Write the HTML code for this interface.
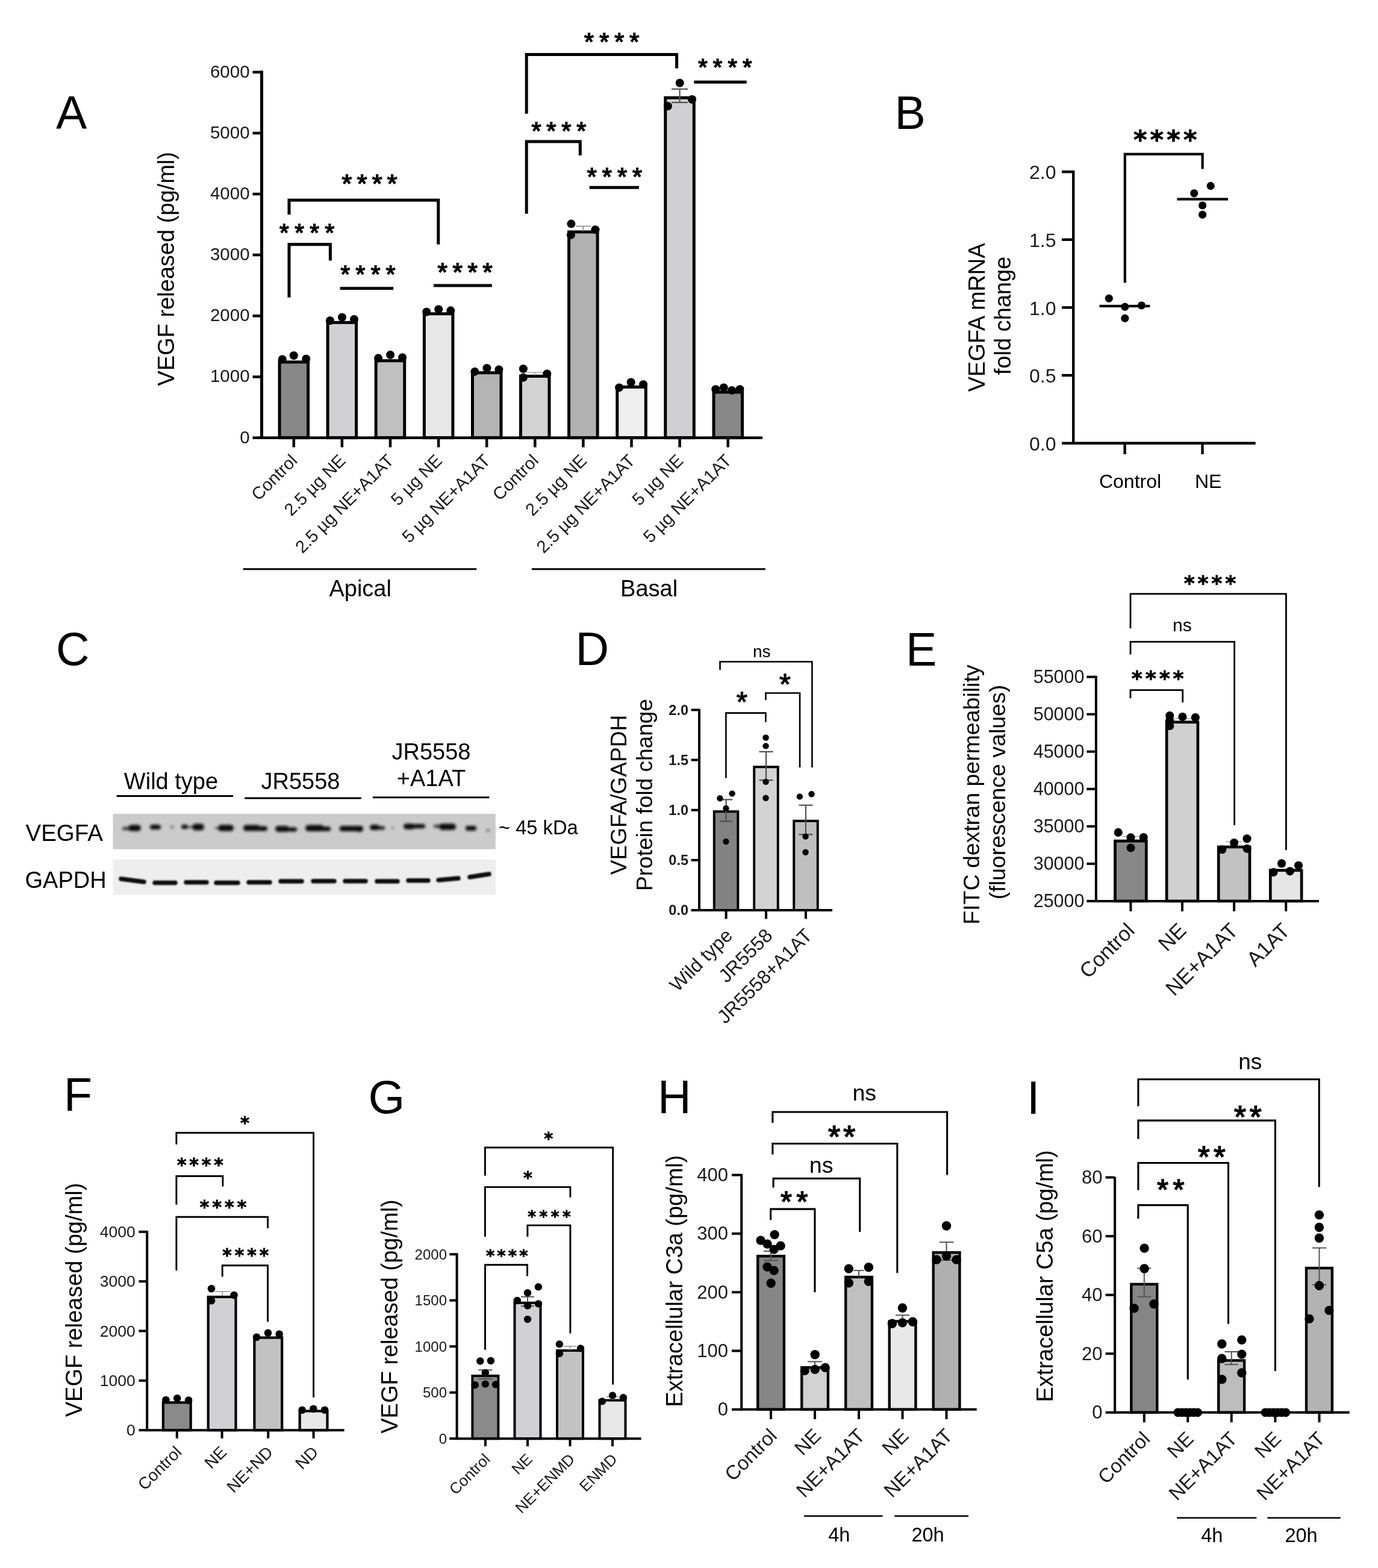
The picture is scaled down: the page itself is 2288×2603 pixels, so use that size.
<!DOCTYPE html>
<html><head><meta charset="utf-8"><title>Figure</title>
<style>html,body{margin:0;padding:0;background:#fff;overflow:hidden;}svg{display:block;font-family:"Liberation Sans",Arial,sans-serif;}</style></head><body>
<svg width="2288" height="2603" viewBox="0 0 2288 2603">
<rect width="100%" height="100%" fill="#fff"/>
<text x="93" y="214" font-size="77">A</text>
<rect x="464.1" y="601" width="47.5" height="125.7" fill="#878787" stroke="#000" stroke-width="5"/>
<rect x="544.1" y="535.4" width="47.5" height="191.3" fill="#d1d1d3" stroke="#000" stroke-width="5"/>
<rect x="624.2" y="598.8" width="47.5" height="127.9" fill="#c0c0c0" stroke="#000" stroke-width="5"/>
<rect x="704.4" y="520.9" width="47.5" height="205.8" fill="#e8e8e8" stroke="#000" stroke-width="5"/>
<rect x="784.5" y="618.8" width="47.5" height="107.9" fill="#b4b4b4" stroke="#000" stroke-width="5"/>
<rect x="864.5" y="624.5" width="47.5" height="102.2" fill="#d3d3d3" stroke="#000" stroke-width="5"/>
<rect x="944.6" y="385" width="47.5" height="341.7" fill="#b2b2b2" stroke="#000" stroke-width="5"/>
<rect x="1024.8" y="642.5" width="47.5" height="84.2" fill="#efefef" stroke="#000" stroke-width="5"/>
<rect x="1104.8" y="162.3" width="47.5" height="564.4" fill="#d0d0d2" stroke="#000" stroke-width="5"/>
<rect x="1185" y="651" width="47.5" height="75.7" fill="#878787" stroke="#000" stroke-width="5"/>
<line x1="888.3" y1="618.3" x2="888.3" y2="623" stroke="#aaa" stroke-width="1.6" stroke-linecap="butt"/>
<line x1="873.8" y1="618.3" x2="902.8" y2="618.3" stroke="#aaa" stroke-width="1.6" stroke-linecap="butt"/>
<line x1="968.4" y1="375.6" x2="968.4" y2="384" stroke="#888" stroke-width="1.6" stroke-linecap="butt"/>
<line x1="955.9" y1="375.6" x2="980.9" y2="375.6" stroke="#888" stroke-width="1.6" stroke-linecap="butt"/>
<line x1="1128.6" y1="147.8" x2="1128.6" y2="170.1" stroke="#555" stroke-width="2.2" stroke-linecap="butt"/>
<line x1="1115.1" y1="147.8" x2="1142.1" y2="147.8" stroke="#555" stroke-width="2.2" stroke-linecap="butt"/>
<line x1="1115.1" y1="170.1" x2="1142.1" y2="170.1" stroke="#555" stroke-width="2.2" stroke-linecap="butt"/>
<line x1="1048.5" y1="638.5" x2="1048.5" y2="641" stroke="#bbb" stroke-width="1.5" stroke-linecap="butt"/>
<line x1="1038.5" y1="638.5" x2="1058.5" y2="638.5" stroke="#bbb" stroke-width="1.5" stroke-linecap="butt"/>
<circle cx="468.8" cy="596.4" r="7"/>
<circle cx="487.8" cy="590.2" r="7"/>
<circle cx="508.3" cy="595.7" r="7"/>
<circle cx="548" cy="532.3" r="7"/>
<circle cx="568" cy="526.7" r="7"/>
<circle cx="588" cy="530" r="7"/>
<circle cx="628.1" cy="594.6" r="7"/>
<circle cx="648.1" cy="589.1" r="7"/>
<circle cx="668.1" cy="593.5" r="7"/>
<circle cx="708.2" cy="517.8" r="7"/>
<circle cx="728.2" cy="513.4" r="7"/>
<circle cx="748.3" cy="515.6" r="7"/>
<circle cx="788.3" cy="616.9" r="7"/>
<circle cx="808.4" cy="611.3" r="7"/>
<circle cx="828.4" cy="613.5" r="7"/>
<circle cx="868.9" cy="612.3" r="7"/>
<circle cx="908.3" cy="620.5" r="7"/>
<circle cx="868.9" cy="626.7" r="7"/>
<circle cx="948.4" cy="371.6" r="7"/>
<circle cx="988.5" cy="381.2" r="7"/>
<circle cx="947.9" cy="390.1" r="7"/>
<circle cx="1028.1" cy="643.4" r="7"/>
<circle cx="1047.7" cy="634.5" r="7"/>
<circle cx="1068.1" cy="638.3" r="7"/>
<circle cx="1128.7" cy="137.8" r="7"/>
<circle cx="1149" cy="165.1" r="7"/>
<circle cx="1108.9" cy="176.2" r="7"/>
<circle cx="1188.3" cy="646.3" r="7"/>
<circle cx="1201.7" cy="643.4" r="7"/>
<circle cx="1215" cy="647.9" r="7"/>
<circle cx="1228.4" cy="646.3" r="7"/>
<line x1="434.5" y1="117.3" x2="434.5" y2="729" stroke="#000" stroke-width="5" stroke-linecap="butt"/>
<line x1="419.5" y1="726.7" x2="434.5" y2="726.7" stroke="#000" stroke-width="4.5" stroke-linecap="butt"/>
<text x="414.6" y="735.5" font-size="29.5" text-anchor="end" fill="#1a1a1a">0</text>
<line x1="419.5" y1="625.6" x2="434.5" y2="625.6" stroke="#000" stroke-width="4.5" stroke-linecap="butt"/>
<text x="414.6" y="634.4" font-size="29.5" text-anchor="end" fill="#1a1a1a">1000</text>
<line x1="419.5" y1="524.4" x2="434.5" y2="524.4" stroke="#000" stroke-width="4.5" stroke-linecap="butt"/>
<text x="414.6" y="533.2" font-size="29.5" text-anchor="end" fill="#1a1a1a">2000</text>
<line x1="419.5" y1="423.2" x2="434.5" y2="423.2" stroke="#000" stroke-width="4.5" stroke-linecap="butt"/>
<text x="414.6" y="432.1" font-size="29.5" text-anchor="end" fill="#1a1a1a">3000</text>
<line x1="419.5" y1="322.1" x2="434.5" y2="322.1" stroke="#000" stroke-width="4.5" stroke-linecap="butt"/>
<text x="414.6" y="330.9" font-size="29.5" text-anchor="end" fill="#1a1a1a">4000</text>
<line x1="419.5" y1="221" x2="434.5" y2="221" stroke="#000" stroke-width="4.5" stroke-linecap="butt"/>
<text x="414.6" y="229.8" font-size="29.5" text-anchor="end" fill="#1a1a1a">5000</text>
<line x1="419.5" y1="119.8" x2="434.5" y2="119.8" stroke="#000" stroke-width="4.5" stroke-linecap="butt"/>
<text x="414.6" y="128.6" font-size="29.5" text-anchor="end" fill="#1a1a1a">6000</text>
<line x1="432" y1="726.7" x2="1266" y2="726.7" stroke="#000" stroke-width="4.5" stroke-linecap="butt"/>
<line x1="487.8" y1="726.7" x2="487.8" y2="742.5" stroke="#000" stroke-width="4.5" stroke-linecap="butt"/>
<line x1="567.9" y1="726.7" x2="567.9" y2="742.5" stroke="#000" stroke-width="4.5" stroke-linecap="butt"/>
<line x1="648" y1="726.7" x2="648" y2="742.5" stroke="#000" stroke-width="4.5" stroke-linecap="butt"/>
<line x1="728.1" y1="726.7" x2="728.1" y2="742.5" stroke="#000" stroke-width="4.5" stroke-linecap="butt"/>
<line x1="808.2" y1="726.7" x2="808.2" y2="742.5" stroke="#000" stroke-width="4.5" stroke-linecap="butt"/>
<line x1="888.3" y1="726.7" x2="888.3" y2="742.5" stroke="#000" stroke-width="4.5" stroke-linecap="butt"/>
<line x1="968.4" y1="726.7" x2="968.4" y2="742.5" stroke="#000" stroke-width="4.5" stroke-linecap="butt"/>
<line x1="1048.5" y1="726.7" x2="1048.5" y2="742.5" stroke="#000" stroke-width="4.5" stroke-linecap="butt"/>
<line x1="1128.6" y1="726.7" x2="1128.6" y2="742.5" stroke="#000" stroke-width="4.5" stroke-linecap="butt"/>
<line x1="1208.7" y1="726.7" x2="1208.7" y2="742.5" stroke="#000" stroke-width="4.5" stroke-linecap="butt"/>
<text x="495.3" y="766.5" font-size="29" text-anchor="end" fill="#1a1a1a" transform="rotate(-45 495.3 766.5)">Control</text>
<text x="575.4" y="766.5" font-size="29" text-anchor="end" fill="#1a1a1a" transform="rotate(-45 575.4 766.5)">2.5 µg NE</text>
<text x="655.5" y="766.5" font-size="29" text-anchor="end" fill="#1a1a1a" transform="rotate(-45 655.5 766.5)">2.5 µg NE+A1AT</text>
<text x="735.6" y="766.5" font-size="29" text-anchor="end" fill="#1a1a1a" transform="rotate(-45 735.6 766.5)">5 µg NE</text>
<text x="815.7" y="766.5" font-size="29" text-anchor="end" fill="#1a1a1a" transform="rotate(-45 815.7 766.5)">5 µg NE+A1AT</text>
<text x="895.8" y="766.5" font-size="29" text-anchor="end" fill="#1a1a1a" transform="rotate(-45 895.8 766.5)">Control</text>
<text x="975.9" y="766.5" font-size="29" text-anchor="end" fill="#1a1a1a" transform="rotate(-45 975.9 766.5)">2.5 µg NE</text>
<text x="1056" y="766.5" font-size="29" text-anchor="end" fill="#1a1a1a" transform="rotate(-45 1056 766.5)">2.5 µg NE+A1AT</text>
<text x="1136.1" y="766.5" font-size="29" text-anchor="end" fill="#1a1a1a" transform="rotate(-45 1136.1 766.5)">5 µg NE</text>
<text x="1216.2" y="766.5" font-size="29" text-anchor="end" fill="#1a1a1a" transform="rotate(-45 1216.2 766.5)">5 µg NE+A1AT</text>
<line x1="403.7" y1="944.8" x2="791.2" y2="944.8" stroke="#000" stroke-width="3" stroke-linecap="butt"/>
<line x1="882.9" y1="944.8" x2="1270.8" y2="944.8" stroke="#000" stroke-width="3" stroke-linecap="butt"/>
<text x="598.2" y="990" font-size="38" text-anchor="middle">Apical</text>
<text x="1077.6" y="990" font-size="38" text-anchor="middle">Basal</text>
<text x="288.7" y="446.4" font-size="38" text-anchor="middle" transform="rotate(-90 288.7 446.4)">VEGF released (pg/ml)</text>
<polyline points="480,356.2 480,332.3 727.8,332.3 727.8,405.8" fill="none" stroke="#000" stroke-width="5" stroke-linejoin="miter"/>
<text x="567.6" y="319.4" font-size="43" letter-spacing="8.3" stroke="#000" stroke-width="1.6">****</text>
<polyline points="480,493.7 480,405.8 548.4,405.8 548.4,432.5" fill="none" stroke="#000" stroke-width="5" stroke-linejoin="miter"/>
<text x="464.1" y="399.8" font-size="40.2" letter-spacing="9.5" stroke="#000" stroke-width="1.6">****</text>
<line x1="564.7" y1="478.8" x2="653.2" y2="478.8" stroke="#000" stroke-width="5" stroke-linecap="butt"/>
<text x="565.4" y="468.8" font-size="40.2" letter-spacing="9.5" stroke="#000" stroke-width="1.6">****</text>
<line x1="720" y1="474.1" x2="816.8" y2="474.1" stroke="#000" stroke-width="5" stroke-linecap="butt"/>
<text x="726.6" y="466.2" font-size="42.2" letter-spacing="8.5" stroke="#000" stroke-width="1.6">****</text>
<polyline points="874.2,188.7 874.2,90.4 1123.6,90.4 1123.6,113.4" fill="none" stroke="#000" stroke-width="5" stroke-linejoin="miter"/>
<text x="970.1" y="83" font-size="41" letter-spacing="9.1" stroke="#000" stroke-width="1.6">****</text>
<polyline points="874.2,354.8 874.2,235 963.3,235 963.3,257.9" fill="none" stroke="#000" stroke-width="5" stroke-linejoin="miter"/>
<text x="882.4" y="230.6" font-size="41.3" letter-spacing="8.9" stroke="#000" stroke-width="1.6">****</text>
<line x1="978.7" y1="311.3" x2="1060.9" y2="311.3" stroke="#000" stroke-width="5" stroke-linecap="butt"/>
<text x="974.8" y="307" font-size="41.3" letter-spacing="9" stroke="#000" stroke-width="1.6">****</text>
<line x1="1152.3" y1="136.3" x2="1239.7" y2="136.3" stroke="#000" stroke-width="5" stroke-linecap="butt"/>
<text x="1159.2" y="124.9" font-size="39.6" letter-spacing="9.2" stroke="#000" stroke-width="1.6">****</text>
<text x="1485.5" y="214" font-size="77">B</text>
<line x1="1782.2" y1="283" x2="1782.2" y2="738" stroke="#000" stroke-width="4.4" stroke-linecap="butt"/>
<line x1="1763" y1="735.8" x2="1782.2" y2="735.8" stroke="#000" stroke-width="4.4" stroke-linecap="butt"/>
<text x="1753.5" y="747.8" font-size="32" text-anchor="end" fill="#1a1a1a">0.0</text>
<line x1="1763" y1="623.1" x2="1782.2" y2="623.1" stroke="#000" stroke-width="4.4" stroke-linecap="butt"/>
<text x="1753.5" y="635.1" font-size="32" text-anchor="end" fill="#1a1a1a">0.5</text>
<line x1="1763" y1="510.5" x2="1782.2" y2="510.5" stroke="#000" stroke-width="4.4" stroke-linecap="butt"/>
<text x="1753.5" y="522.5" font-size="32" text-anchor="end" fill="#1a1a1a">1.0</text>
<line x1="1763" y1="397.8" x2="1782.2" y2="397.8" stroke="#000" stroke-width="4.4" stroke-linecap="butt"/>
<text x="1753.5" y="409.8" font-size="32" text-anchor="end" fill="#1a1a1a">1.5</text>
<line x1="1763" y1="285.2" x2="1782.2" y2="285.2" stroke="#000" stroke-width="4.4" stroke-linecap="butt"/>
<text x="1753.5" y="297.2" font-size="32" text-anchor="end" fill="#1a1a1a">2.0</text>
<line x1="1780" y1="735.8" x2="2084.7" y2="735.8" stroke="#000" stroke-width="4.4" stroke-linecap="butt"/>
<line x1="1867.6" y1="735.8" x2="1867.6" y2="754" stroke="#000" stroke-width="4.4" stroke-linecap="butt"/>
<line x1="1996.5" y1="735.8" x2="1996.5" y2="754" stroke="#000" stroke-width="4.4" stroke-linecap="butt"/>
<line x1="1825.5" y1="508.2" x2="1909.3" y2="508.2" stroke="#000" stroke-width="4.2" stroke-linecap="butt"/>
<line x1="1954.4" y1="330.7" x2="2039" y2="330.7" stroke="#000" stroke-width="4.2" stroke-linecap="butt"/>
<circle cx="1841.3" cy="495.3" r="6.6"/>
<circle cx="1867.8" cy="509.3" r="6.6"/>
<circle cx="1895.4" cy="507" r="6.6"/>
<circle cx="1867.8" cy="528.4" r="6.6"/>
<circle cx="1982.7" cy="320.8" r="6.6"/>
<circle cx="2010.2" cy="308.7" r="6.6"/>
<circle cx="1996.6" cy="341" r="6.6"/>
<circle cx="1996.6" cy="356.4" r="6.6"/>
<polyline points="1867.8,469.6 1867.8,255.8 1996.6,255.8 1996.6,280.4" fill="none" stroke="#000" stroke-width="4.2" stroke-linejoin="miter"/>
<text x="1881.9" y="247.4" font-size="42.9" font-weight="bold" letter-spacing="5.3" stroke="#000" stroke-width="0.8" font-family="DejaVu Sans">****</text>
<text x="1876.5" y="809.5" font-size="32" text-anchor="middle">Control</text>
<text x="2006.2" y="809.5" font-size="32" text-anchor="middle">NE</text>
<text x="1634.8" y="527" font-size="38" text-anchor="middle" transform="rotate(-90 1634.8 527)">VEGFA mRNA</text>
<text x="1678" y="524" font-size="38" text-anchor="middle" transform="rotate(-90 1678 524)">fold change</text>
<text x="93" y="1104" font-size="77">C</text>
<defs><filter id="blur" x="-50%" y="-50%" width="200%" height="200%"><feGaussianBlur stdDeviation="2"/></filter><filter id="blur2" x="-50%" y="-50%" width="200%" height="200%"><feGaussianBlur stdDeviation="1.1"/></filter></defs>
<rect x="187.5" y="1351" width="635.3" height="58.8" fill="#cbcbcb"/>
<rect x="187.5" y="1427" width="635.3" height="58.7" fill="#eeeeee"/>
<g filter="url(#blur)" fill="#111"><rect x="213" y="1369.2" width="21" height="10.5" rx="5.2"/><rect x="203" y="1373" width="12" height="5" rx="2.5" fill-opacity="0.8"/><rect x="249" y="1369" width="18" height="8" rx="4"/><rect x="283" y="1370.8" width="6" height="4.5" rx="2.2" fill-opacity="0.5"/><rect x="301" y="1369" width="11" height="7" rx="3.5"/><rect x="311" y="1371.5" width="10" height="3" rx="1.5" fill-opacity="0.6"/><rect x="319" y="1367.5" width="20" height="11" rx="5.5"/><rect x="362" y="1369.2" width="26" height="10.5" rx="5.2"/><rect x="356" y="1373.2" width="8" height="3.5" rx="1.8" fill-opacity="0.5"/><rect x="404" y="1369.6" width="28" height="10" rx="5"/><rect x="428" y="1371.5" width="16" height="8" rx="4"/><rect x="457" y="1371" width="23" height="10" rx="5"/><rect x="476" y="1373.5" width="17" height="7" rx="3.5"/><rect x="507" y="1369.5" width="31" height="10.5" rx="5.2"/><rect x="534" y="1372.2" width="15" height="7.5" rx="3.8"/><rect x="563.5" y="1371.1" width="39.5" height="9" rx="4.5"/><rect x="590" y="1371" width="13" height="10" rx="5"/><rect x="614" y="1369" width="16" height="9" rx="4.5"/><rect x="626" y="1371.5" width="13" height="6" rx="3" fill-opacity="0.9"/><rect x="650" y="1372.2" width="4" height="3.5" rx="1.8" fill-opacity="0.5"/><rect x="670" y="1367.2" width="19" height="9.5" rx="4.8"/><rect x="686" y="1368" width="20" height="7" rx="3.5"/><rect x="720" y="1369" width="11" height="5" rx="2.5" fill-opacity="0.8"/><rect x="729" y="1367.2" width="28" height="10.5" rx="5.2"/><rect x="773" y="1371" width="18" height="8" rx="4"/><rect x="807.5" y="1376.2" width="5.5" height="4.5" rx="2.2" fill-opacity="0.5"/></g>
<g filter="url(#blur2)" stroke="#111" stroke-width="7.5" stroke-linecap="round"><line x1="201" y1="1459" x2="239" y2="1464"/><line x1="257" y1="1465.5" x2="291" y2="1465.5"/><line x1="309" y1="1464.7" x2="343" y2="1464.7"/><line x1="359" y1="1465.5" x2="395" y2="1465.5"/><line x1="413" y1="1464.7" x2="448" y2="1464.7"/><line x1="466" y1="1463" x2="501" y2="1463"/><line x1="520" y1="1462.7" x2="555" y2="1462.7"/><line x1="573" y1="1462.7" x2="607" y2="1462.7"/><line x1="626" y1="1463" x2="660" y2="1463"/><line x1="678" y1="1461.7" x2="711" y2="1461.7"/><line x1="728" y1="1461" x2="761" y2="1458"/><line x1="780" y1="1456" x2="812" y2="1451"/></g>
<text x="42.5" y="1396.2" font-size="38.5">VEGFA</text>
<text x="41.5" y="1474.2" font-size="38">GAPDH</text>
<text x="828" y="1385.3" font-size="32.7">~ 45 kDa</text>
<text x="284" y="1310" font-size="38" text-anchor="middle">Wild type</text>
<text x="499" y="1310" font-size="38" text-anchor="middle">JR5558</text>
<text x="716" y="1261" font-size="38" text-anchor="middle">JR5558</text>
<text x="716" y="1304.6" font-size="38" text-anchor="middle">+A1AT</text>
<line x1="193.6" y1="1321.5" x2="387.1" y2="1321.5" stroke="#000" stroke-width="3" stroke-linecap="butt"/>
<line x1="406.2" y1="1325" x2="599.8" y2="1325" stroke="#000" stroke-width="3" stroke-linecap="butt"/>
<line x1="618.9" y1="1323.7" x2="812.4" y2="1323.7" stroke="#000" stroke-width="3" stroke-linecap="butt"/>
<text x="955.5" y="1104" font-size="77">D</text>
<rect x="1185.8" y="1347.2" width="39.5" height="163.8" fill="#828282" stroke="#000" stroke-width="4"/>
<rect x="1252.2" y="1273.2" width="39.5" height="237.8" fill="#d3d3d3" stroke="#000" stroke-width="4"/>
<rect x="1318.2" y="1362.8" width="39.5" height="148.2" fill="#bfbfbf" stroke="#000" stroke-width="4"/>
<line x1="1205.6" y1="1327.4" x2="1205.6" y2="1363.4" stroke="#505050" stroke-width="2.2" stroke-linecap="butt"/>
<line x1="1195.1" y1="1327.4" x2="1216.1" y2="1327.4" stroke="#505050" stroke-width="2.2" stroke-linecap="butt"/>
<line x1="1195.1" y1="1363.4" x2="1216.1" y2="1363.4" stroke="#505050" stroke-width="2.2" stroke-linecap="butt"/>
<line x1="1272" y1="1247.9" x2="1272" y2="1295.2" stroke="#505050" stroke-width="2.2" stroke-linecap="butt"/>
<line x1="1260.5" y1="1247.9" x2="1283.5" y2="1247.9" stroke="#505050" stroke-width="2.2" stroke-linecap="butt"/>
<line x1="1260.5" y1="1295.2" x2="1283.5" y2="1295.2" stroke="#505050" stroke-width="2.2" stroke-linecap="butt"/>
<line x1="1337.9" y1="1336.7" x2="1337.9" y2="1385.3" stroke="#505050" stroke-width="2.2" stroke-linecap="butt"/>
<line x1="1326.4" y1="1336.7" x2="1349.4" y2="1336.7" stroke="#505050" stroke-width="2.2" stroke-linecap="butt"/>
<line x1="1326.4" y1="1385.3" x2="1349.4" y2="1385.3" stroke="#505050" stroke-width="2.2" stroke-linecap="butt"/>
<circle cx="1195.4" cy="1325.2" r="5.2"/>
<circle cx="1215.6" cy="1317.4" r="5.2"/>
<circle cx="1205.4" cy="1341.9" r="5.2"/>
<circle cx="1205.4" cy="1397" r="5.2"/>
<circle cx="1271.5" cy="1224.5" r="5.2"/>
<circle cx="1271.5" cy="1238.4" r="5.2"/>
<circle cx="1271.5" cy="1297.9" r="5.2"/>
<circle cx="1271.5" cy="1324.7" r="5.2"/>
<circle cx="1327.8" cy="1322.4" r="5.2"/>
<circle cx="1347.5" cy="1318.2" r="5.2"/>
<circle cx="1337.5" cy="1388.6" r="5.2"/>
<circle cx="1337.5" cy="1414.8" r="5.2"/>
<line x1="1161" y1="1177" x2="1161" y2="1513" stroke="#000" stroke-width="4" stroke-linecap="butt"/>
<line x1="1147.6" y1="1511" x2="1161" y2="1511" stroke="#000" stroke-width="4" stroke-linecap="butt"/>
<text x="1143" y="1519.4" font-size="23.5" text-anchor="end" font-weight="bold" fill="#1a1a1a">0.0</text>
<line x1="1147.6" y1="1427.9" x2="1161" y2="1427.9" stroke="#000" stroke-width="4" stroke-linecap="butt"/>
<text x="1143" y="1436.3" font-size="23.5" text-anchor="end" font-weight="bold" fill="#1a1a1a">0.5</text>
<line x1="1147.6" y1="1344.8" x2="1161" y2="1344.8" stroke="#000" stroke-width="4" stroke-linecap="butt"/>
<text x="1143" y="1353.2" font-size="23.5" text-anchor="end" font-weight="bold" fill="#1a1a1a">1.0</text>
<line x1="1147.6" y1="1261.6" x2="1161" y2="1261.6" stroke="#000" stroke-width="4" stroke-linecap="butt"/>
<text x="1143" y="1270" font-size="23.5" text-anchor="end" font-weight="bold" fill="#1a1a1a">1.5</text>
<line x1="1147.6" y1="1178.5" x2="1161" y2="1178.5" stroke="#000" stroke-width="4" stroke-linecap="butt"/>
<text x="1143" y="1186.9" font-size="23.5" text-anchor="end" font-weight="bold" fill="#1a1a1a">2.0</text>
<line x1="1159" y1="1511" x2="1382" y2="1511" stroke="#000" stroke-width="4" stroke-linecap="butt"/>
<line x1="1205.6" y1="1511" x2="1205.6" y2="1525.4" stroke="#000" stroke-width="4" stroke-linecap="butt"/>
<line x1="1272" y1="1511" x2="1272" y2="1525.4" stroke="#000" stroke-width="4" stroke-linecap="butt"/>
<line x1="1337.9" y1="1511" x2="1337.9" y2="1525.4" stroke="#000" stroke-width="4" stroke-linecap="butt"/>
<text x="1218.1" y="1555" font-size="32" text-anchor="end" fill="#1a1a1a" transform="rotate(-45 1218.1 1555)">Wild type</text>
<text x="1284.5" y="1555" font-size="32" text-anchor="end" fill="#1a1a1a" transform="rotate(-45 1284.5 1555)">JR5558</text>
<text x="1350.4" y="1555" font-size="32" text-anchor="end" fill="#1a1a1a" transform="rotate(-45 1350.4 1555)">JR5558+A1AT</text>
<polyline points="1205.4,1291.6 1205.4,1183.6 1271.4,1183.6 1271.4,1198.7" fill="none" stroke="#000" stroke-width="2.6" stroke-linejoin="miter"/>
<polyline points="1271.4,1162.3 1271.4,1150.5 1328,1150.5 1328,1274" fill="none" stroke="#000" stroke-width="2.6" stroke-linejoin="miter"/>
<polyline points="1195.5,1112 1195.5,1098.5 1348.4,1098.5 1348.4,1274" fill="none" stroke="#000" stroke-width="2.6" stroke-linejoin="miter"/>
<text x="1222.7" y="1181.1" font-size="46.7" stroke="#000" stroke-width="1.3">*</text>
<text x="1294.1" y="1152" font-size="48.4" stroke="#000" stroke-width="1.3">*</text>
<text x="1264.8" y="1090.5" font-size="28" text-anchor="middle">ns</text>
<text x="1039.6" y="1319.5" font-size="37" text-anchor="middle" transform="rotate(-90 1039.6 1319.5)">VEGFA/GAPDH</text>
<text x="1083" y="1319.5" font-size="37" text-anchor="middle" transform="rotate(-90 1083 1319.5)">Protein fold change</text>
<text x="1504" y="1105" font-size="77">E</text>
<rect x="1851.5" y="1396.1" width="51.8" height="99.8" fill="#878787" stroke="#000" stroke-width="4.7"/>
<rect x="1937.1" y="1198.8" width="51.8" height="297.1" fill="#d0d0d0" stroke="#000" stroke-width="4.7"/>
<rect x="2023.2" y="1406" width="51.8" height="89.9" fill="#c2c2c2" stroke="#000" stroke-width="4.7"/>
<rect x="2109.3" y="1444.8" width="51.8" height="51.1" fill="#e6e6e6" stroke="#000" stroke-width="4.7"/>
<line x1="1863" y1="1388.5" x2="1891" y2="1388.5" stroke="#aaa" stroke-width="1.5" stroke-linecap="butt"/>
<line x1="1949.7" y1="1192.7" x2="1978.1" y2="1192.7" stroke="#aaa" stroke-width="1.5" stroke-linecap="butt"/>
<line x1="2035" y1="1397" x2="2063" y2="1397" stroke="#aaa" stroke-width="1.5" stroke-linecap="butt"/>
<circle cx="1856.7" cy="1381.9" r="7.1"/>
<circle cx="1877.5" cy="1390.4" r="7.1"/>
<circle cx="1898.7" cy="1390" r="7.1"/>
<circle cx="1877.5" cy="1407.5" r="7.1"/>
<circle cx="1942.2" cy="1188" r="7.1"/>
<circle cx="1942.2" cy="1196" r="7.1"/>
<circle cx="1942.2" cy="1205" r="7.1"/>
<circle cx="1963.4" cy="1190" r="7.1"/>
<circle cx="1984.8" cy="1191" r="7.1"/>
<circle cx="2049.1" cy="1399" r="7.1"/>
<circle cx="2070.5" cy="1392.3" r="7.1"/>
<circle cx="2029.2" cy="1410.3" r="7.1"/>
<circle cx="2070.5" cy="1408.8" r="7.1"/>
<circle cx="2128" cy="1433.4" r="7.1"/>
<circle cx="2156" cy="1436.8" r="7.1"/>
<circle cx="2114.4" cy="1448.1" r="7.1"/>
<circle cx="2141.8" cy="1446.3" r="7.1"/>
<line x1="1819.9" y1="1122" x2="1819.9" y2="1498" stroke="#000" stroke-width="4" stroke-linecap="butt"/>
<line x1="1804.3" y1="1495.9" x2="1819.9" y2="1495.9" stroke="#000" stroke-width="4" stroke-linecap="butt"/>
<text x="1800.5" y="1505.9" font-size="30.5" text-anchor="end" fill="#1a1a1a">25000</text>
<line x1="1804.3" y1="1433.9" x2="1819.9" y2="1433.9" stroke="#000" stroke-width="4" stroke-linecap="butt"/>
<text x="1800.5" y="1443.9" font-size="30.5" text-anchor="end" fill="#1a1a1a">30000</text>
<line x1="1804.3" y1="1371.8" x2="1819.9" y2="1371.8" stroke="#000" stroke-width="4" stroke-linecap="butt"/>
<text x="1800.5" y="1381.8" font-size="30.5" text-anchor="end" fill="#1a1a1a">35000</text>
<line x1="1804.3" y1="1309.8" x2="1819.9" y2="1309.8" stroke="#000" stroke-width="4" stroke-linecap="butt"/>
<text x="1800.5" y="1319.8" font-size="30.5" text-anchor="end" fill="#1a1a1a">40000</text>
<line x1="1804.3" y1="1247.7" x2="1819.9" y2="1247.7" stroke="#000" stroke-width="4" stroke-linecap="butt"/>
<text x="1800.5" y="1257.7" font-size="30.5" text-anchor="end" fill="#1a1a1a">45000</text>
<line x1="1804.3" y1="1185.7" x2="1819.9" y2="1185.7" stroke="#000" stroke-width="4" stroke-linecap="butt"/>
<text x="1800.5" y="1195.7" font-size="30.5" text-anchor="end" fill="#1a1a1a">50000</text>
<line x1="1804.3" y1="1123.7" x2="1819.9" y2="1123.7" stroke="#000" stroke-width="4" stroke-linecap="butt"/>
<text x="1800.5" y="1133.7" font-size="30.5" text-anchor="end" fill="#1a1a1a">55000</text>
<line x1="1818" y1="1495.9" x2="2190" y2="1495.9" stroke="#000" stroke-width="4" stroke-linecap="butt"/>
<line x1="1877.4" y1="1495.9" x2="1877.4" y2="1512.8" stroke="#000" stroke-width="4" stroke-linecap="butt"/>
<line x1="1963" y1="1495.9" x2="1963" y2="1512.8" stroke="#000" stroke-width="4" stroke-linecap="butt"/>
<line x1="2049.1" y1="1495.9" x2="2049.1" y2="1512.8" stroke="#000" stroke-width="4" stroke-linecap="butt"/>
<line x1="2135.2" y1="1495.9" x2="2135.2" y2="1512.8" stroke="#000" stroke-width="4" stroke-linecap="butt"/>
<text x="1885.9" y="1547" font-size="34.7" text-anchor="end" fill="#1a1a1a" transform="rotate(-45 1885.9 1547)">Control</text>
<text x="1971.5" y="1547" font-size="34.7" text-anchor="end" fill="#1a1a1a" transform="rotate(-45 1971.5 1547)">NE</text>
<text x="2057.6" y="1547" font-size="34.7" text-anchor="end" fill="#1a1a1a" transform="rotate(-45 2057.6 1547)">NE+A1AT</text>
<text x="2143.7" y="1547" font-size="34.7" text-anchor="end" fill="#1a1a1a" transform="rotate(-45 2143.7 1547)">A1AT</text>
<polyline points="1877,1159.3 1877,1145.7 1963.7,1145.7 1963.7,1166" fill="none" stroke="#000" stroke-width="2.8" stroke-linejoin="miter"/>
<text x="1878.8" y="1137.8" font-size="34.5" font-weight="bold" letter-spacing="4.9" stroke="#000" stroke-width="0.8" font-family="DejaVu Sans">****</text>
<polyline points="1877,1086.5 1877,1065.3 2049.6,1065.3 2049.6,1369.8" fill="none" stroke="#000" stroke-width="2.8" stroke-linejoin="miter"/>
<text x="1962.8" y="1047.6" font-size="30" text-anchor="middle">ns</text>
<polyline points="1877,1043.3 1877,985.8 2135.4,985.8 2135.4,1411.3" fill="none" stroke="#000" stroke-width="2.8" stroke-linejoin="miter"/>
<text x="1965.7" y="979.9" font-size="34.5" font-weight="bold" letter-spacing="4.8" stroke="#000" stroke-width="0.8" font-family="DejaVu Sans">****</text>
<text x="1626.5" y="1319.1" font-size="37.5" text-anchor="middle" transform="rotate(-90 1626.5 1319.1)">FITC dextran permeability</text>
<text x="1669" y="1315" font-size="37.5" text-anchor="middle" transform="rotate(-90 1669 1315)">(fluorescence values)</text>
<text x="106" y="1844" font-size="77">F</text>
<rect x="270.9" y="2328.3" width="45.8" height="45.9" fill="#8a8a8a" stroke="#000" stroke-width="4.2"/>
<rect x="345.7" y="2153" width="45.8" height="221.2" fill="#d1d1d3" stroke="#000" stroke-width="4.2"/>
<rect x="422.4" y="2220.6" width="45.8" height="153.6" fill="#c2c2c2" stroke="#000" stroke-width="4.2"/>
<rect x="497.7" y="2342.5" width="45.8" height="31.7" fill="#e8e8e8" stroke="#000" stroke-width="4.2"/>
<line x1="369.3" y1="2144" x2="369.3" y2="2151" stroke="#999" stroke-width="1.6" stroke-linecap="butt"/>
<line x1="356.8" y1="2144" x2="381.8" y2="2144" stroke="#999" stroke-width="1.6" stroke-linecap="butt"/>
<circle cx="275.4" cy="2324" r="6.3"/>
<circle cx="294.2" cy="2321.2" r="6.3"/>
<circle cx="313.1" cy="2324.5" r="6.3"/>
<circle cx="351" cy="2139.2" r="6.3"/>
<circle cx="388.5" cy="2150" r="6.3"/>
<circle cx="351" cy="2159.2" r="6.3"/>
<circle cx="426.1" cy="2219.8" r="6.3"/>
<circle cx="445" cy="2212.7" r="6.3"/>
<circle cx="463.7" cy="2214.8" r="6.3"/>
<circle cx="501.7" cy="2340.7" r="6.3"/>
<circle cx="520.4" cy="2338.7" r="6.3"/>
<circle cx="539.1" cy="2340.7" r="6.3"/>
<line x1="244.2" y1="2043" x2="244.2" y2="2376" stroke="#000" stroke-width="4" stroke-linecap="butt"/>
<line x1="230.5" y1="2374.2" x2="244.2" y2="2374.2" stroke="#000" stroke-width="4" stroke-linecap="butt"/>
<text x="224.8" y="2383.4" font-size="26.5" text-anchor="end" fill="#1a1a1a">0</text>
<line x1="230.5" y1="2291.9" x2="244.2" y2="2291.9" stroke="#000" stroke-width="4" stroke-linecap="butt"/>
<text x="224.8" y="2301.1" font-size="26.5" text-anchor="end" fill="#1a1a1a">1000</text>
<line x1="230.5" y1="2209.5" x2="244.2" y2="2209.5" stroke="#000" stroke-width="4" stroke-linecap="butt"/>
<text x="224.8" y="2218.7" font-size="26.5" text-anchor="end" fill="#1a1a1a">2000</text>
<line x1="230.5" y1="2127.2" x2="244.2" y2="2127.2" stroke="#000" stroke-width="4" stroke-linecap="butt"/>
<text x="224.8" y="2136.4" font-size="26.5" text-anchor="end" fill="#1a1a1a">3000</text>
<line x1="230.5" y1="2044.9" x2="244.2" y2="2044.9" stroke="#000" stroke-width="4" stroke-linecap="butt"/>
<text x="224.8" y="2054.1" font-size="26.5" text-anchor="end" fill="#1a1a1a">4000</text>
<line x1="242" y1="2374.2" x2="571.6" y2="2374.2" stroke="#000" stroke-width="4" stroke-linecap="butt"/>
<line x1="293.8" y1="2374.2" x2="293.8" y2="2387.8" stroke="#000" stroke-width="4" stroke-linecap="butt"/>
<line x1="368.6" y1="2374.2" x2="368.6" y2="2387.8" stroke="#000" stroke-width="4" stroke-linecap="butt"/>
<line x1="445.3" y1="2374.2" x2="445.3" y2="2387.8" stroke="#000" stroke-width="4" stroke-linecap="butt"/>
<line x1="520.6" y1="2374.2" x2="520.6" y2="2387.8" stroke="#000" stroke-width="4" stroke-linecap="butt"/>
<text x="303.3" y="2412.5" font-size="27.7" text-anchor="end" fill="#1a1a1a" transform="rotate(-45 303.3 2412.5)">Control</text>
<text x="378.1" y="2412.5" font-size="27.7" text-anchor="end" fill="#1a1a1a" transform="rotate(-45 378.1 2412.5)">NE</text>
<text x="454.8" y="2412.5" font-size="27.7" text-anchor="end" fill="#1a1a1a" transform="rotate(-45 454.8 2412.5)">NE+ND</text>
<text x="530.1" y="2412.5" font-size="27.7" text-anchor="end" fill="#1a1a1a" transform="rotate(-45 530.1 2412.5)">ND</text>
<polyline points="292.9,1999.7 292.9,1952.5 369.9,1952.5 369.9,1969.6" fill="none" stroke="#000" stroke-width="2.9" stroke-linejoin="miter"/>
<text x="293.9" y="1944" font-size="29.7" font-weight="bold" letter-spacing="4.9" stroke="#000" stroke-width="0.8" font-family="DejaVu Sans">****</text>
<polyline points="292.9,2109.3 292.9,2020.3 444.6,2020.3 444.6,2039.1" fill="none" stroke="#000" stroke-width="2.9" stroke-linejoin="miter"/>
<text x="331.8" y="2014.2" font-size="29.7" font-weight="bold" letter-spacing="5.1" stroke="#000" stroke-width="0.8" font-family="DejaVu Sans">****</text>
<polyline points="369.2,2119.6 369.2,2100.8 444.6,2100.8 444.6,2194.2" fill="none" stroke="#000" stroke-width="2.9" stroke-linejoin="miter"/>
<text x="369.3" y="2094.4" font-size="29.7" font-weight="bold" letter-spacing="5" stroke="#000" stroke-width="0.8" font-family="DejaVu Sans">****</text>
<polyline points="292.9,1899.7 292.9,1880.5 520.6,1880.5 520.6,2320" fill="none" stroke="#000" stroke-width="2.9" stroke-linejoin="miter"/>
<text x="398.9" y="1873.6" font-size="28.9" font-weight="bold" stroke="#000" stroke-width="0.8" font-family="DejaVu Sans">*</text>
<text x="135.5" y="2158" font-size="38" text-anchor="middle" transform="rotate(-90 135.5 2158)">VEGF released (pg/ml)</text>
<text x="611.5" y="1847.6" font-size="78">G</text>
<rect x="784.4" y="2284" width="43" height="104.2" fill="#8a8a8a" stroke="#000" stroke-width="4"/>
<rect x="854.5" y="2162.8" width="43" height="225.4" fill="#d1d1d3" stroke="#000" stroke-width="4"/>
<rect x="925" y="2242" width="43" height="146.2" fill="#c2c2c2" stroke="#000" stroke-width="4"/>
<rect x="995.5" y="2324.6" width="43" height="63.6" fill="#e8e8e8" stroke="#000" stroke-width="4"/>
<line x1="805.9" y1="2274.3" x2="805.9" y2="2289" stroke="#555" stroke-width="2" stroke-linecap="butt"/>
<line x1="794.4" y1="2274.3" x2="817.4" y2="2274.3" stroke="#555" stroke-width="2" stroke-linecap="butt"/>
<line x1="794.4" y1="2289" x2="817.4" y2="2289" stroke="#555" stroke-width="2" stroke-linecap="butt"/>
<line x1="876" y1="2152.7" x2="876" y2="2168.3" stroke="#555" stroke-width="2" stroke-linecap="butt"/>
<line x1="865" y1="2152.7" x2="887" y2="2152.7" stroke="#555" stroke-width="2" stroke-linecap="butt"/>
<line x1="865" y1="2168.3" x2="887" y2="2168.3" stroke="#555" stroke-width="2" stroke-linecap="butt"/>
<line x1="946.5" y1="2235" x2="946.5" y2="2242" stroke="#999" stroke-width="1.6" stroke-linecap="butt"/>
<line x1="936" y1="2235" x2="957" y2="2235" stroke="#999" stroke-width="1.6" stroke-linecap="butt"/>
<line x1="1017" y1="2318.7" x2="1017" y2="2324" stroke="#999" stroke-width="1.6" stroke-linecap="butt"/>
<line x1="1006.5" y1="2318.7" x2="1027.5" y2="2318.7" stroke="#999" stroke-width="1.6" stroke-linecap="butt"/>
<circle cx="797.3" cy="2259.5" r="6.2"/>
<circle cx="814.9" cy="2259" r="6.2"/>
<circle cx="805.8" cy="2278.9" r="6.2"/>
<circle cx="788.7" cy="2299.2" r="6.2"/>
<circle cx="805.8" cy="2297.6" r="6.2"/>
<circle cx="823" cy="2298.4" r="6.2"/>
<circle cx="893.9" cy="2136.4" r="6.2"/>
<circle cx="876" cy="2146.2" r="6.2"/>
<circle cx="858.8" cy="2159" r="6.2"/>
<circle cx="876" cy="2167.5" r="6.2"/>
<circle cx="893.9" cy="2164.4" r="6.2"/>
<circle cx="876" cy="2190.1" r="6.2"/>
<circle cx="928.9" cy="2231.4" r="6.2"/>
<circle cx="964" cy="2238.4" r="6.2"/>
<circle cx="928.9" cy="2247" r="6.2"/>
<circle cx="999.8" cy="2326.4" r="6.2"/>
<circle cx="1017" cy="2316.6" r="6.2"/>
<circle cx="1034.9" cy="2320.2" r="6.2"/>
<line x1="758.6" y1="2080.5" x2="758.6" y2="2390" stroke="#000" stroke-width="4" stroke-linecap="butt"/>
<line x1="746.3" y1="2388.2" x2="758.6" y2="2388.2" stroke="#000" stroke-width="4" stroke-linecap="butt"/>
<text x="742" y="2396.6" font-size="24" text-anchor="end" fill="#1a1a1a">0</text>
<line x1="746.3" y1="2311.7" x2="758.6" y2="2311.7" stroke="#000" stroke-width="4" stroke-linecap="butt"/>
<text x="742" y="2320.1" font-size="24" text-anchor="end" fill="#1a1a1a">500</text>
<line x1="746.3" y1="2235.2" x2="758.6" y2="2235.2" stroke="#000" stroke-width="4" stroke-linecap="butt"/>
<text x="742" y="2243.6" font-size="24" text-anchor="end" fill="#1a1a1a">1000</text>
<line x1="746.3" y1="2158.7" x2="758.6" y2="2158.7" stroke="#000" stroke-width="4" stroke-linecap="butt"/>
<text x="742" y="2167.1" font-size="24" text-anchor="end" fill="#1a1a1a">1500</text>
<line x1="746.3" y1="2082.2" x2="758.6" y2="2082.2" stroke="#000" stroke-width="4" stroke-linecap="butt"/>
<text x="742" y="2090.6" font-size="24" text-anchor="end" fill="#1a1a1a">2000</text>
<line x1="757" y1="2388.2" x2="1064.5" y2="2388.2" stroke="#000" stroke-width="4" stroke-linecap="butt"/>
<line x1="805.9" y1="2388.2" x2="805.9" y2="2401" stroke="#000" stroke-width="4" stroke-linecap="butt"/>
<line x1="876" y1="2388.2" x2="876" y2="2401" stroke="#000" stroke-width="4" stroke-linecap="butt"/>
<line x1="946.5" y1="2388.2" x2="946.5" y2="2401" stroke="#000" stroke-width="4" stroke-linecap="butt"/>
<line x1="1017" y1="2388.2" x2="1017" y2="2401" stroke="#000" stroke-width="4" stroke-linecap="butt"/>
<text x="815.4" y="2424" font-size="25.8" text-anchor="end" fill="#1a1a1a" transform="rotate(-45 815.4 2424)">Control</text>
<text x="885.5" y="2424" font-size="25.8" text-anchor="end" fill="#1a1a1a" transform="rotate(-45 885.5 2424)">NE</text>
<text x="956" y="2424" font-size="25.8" text-anchor="end" fill="#1a1a1a" transform="rotate(-45 956 2424)">NE+ENMD</text>
<text x="1026.5" y="2424" font-size="25.8" text-anchor="end" fill="#1a1a1a" transform="rotate(-45 1026.5 2424)">ENMD</text>
<polyline points="805.5,2240.8 805.5,2099.8 875.5,2099.8 875.5,2118.5" fill="none" stroke="#000" stroke-width="2.9" stroke-linejoin="miter"/>
<text x="806.9" y="2093.5" font-size="27.4" font-weight="bold" letter-spacing="4.1" stroke="#000" stroke-width="0.8" font-family="DejaVu Sans">****</text>
<polyline points="875.9,2052.9 875.9,2034.1 946.9,2034.1 946.9,2213.5" fill="none" stroke="#000" stroke-width="2.9" stroke-linejoin="miter"/>
<text x="876.3" y="2028.5" font-size="26.1" font-weight="bold" letter-spacing="5.6" stroke="#000" stroke-width="0.8" font-family="DejaVu Sans">****</text>
<polyline points="805.4,2052.9 805.4,1970.6 946.9,1970.6 946.9,1987.8" fill="none" stroke="#000" stroke-width="2.9" stroke-linejoin="miter"/>
<text x="869" y="1965.2" font-size="28.4" font-weight="bold" stroke="#000" stroke-width="0.8" font-family="DejaVu Sans">*</text>
<polyline points="805.4,1951.8 805.4,1905 1017.7,1905 1017.7,2298.4" fill="none" stroke="#000" stroke-width="2.9" stroke-linejoin="miter"/>
<text x="903.3" y="1899.7" font-size="28.7" font-weight="bold" stroke="#000" stroke-width="0.8" font-family="DejaVu Sans">*</text>
<text x="659.5" y="2185.5" font-size="38" text-anchor="middle" transform="rotate(-90 659.5 2185.5)">VEGF released (pg/ml)</text>
<text x="1092" y="1848" font-size="77">H</text>
<rect x="1258.2" y="2085.3" width="43.7" height="254.5" fill="#868686" stroke="#000" stroke-width="4.4"/>
<rect x="1331.2" y="2270.2" width="43.7" height="69.6" fill="#d2d2d2" stroke="#000" stroke-width="4.4"/>
<rect x="1404.2" y="2120" width="43.7" height="219.8" fill="#c0c0c0" stroke="#000" stroke-width="4.4"/>
<rect x="1476.7" y="2193.5" width="43.7" height="146.3" fill="#e8e8e8" stroke="#000" stroke-width="4.4"/>
<rect x="1549.7" y="2079.3" width="43.7" height="260.5" fill="#b0b0b0" stroke="#000" stroke-width="4.4"/>
<line x1="1280" y1="2077" x2="1280" y2="2092.5" stroke="#555" stroke-width="2" stroke-linecap="butt"/>
<line x1="1268" y1="2077" x2="1292" y2="2077" stroke="#555" stroke-width="2" stroke-linecap="butt"/>
<line x1="1268" y1="2092.5" x2="1292" y2="2092.5" stroke="#555" stroke-width="2" stroke-linecap="butt"/>
<line x1="1353" y1="2260.4" x2="1353" y2="2270" stroke="#555" stroke-width="2" stroke-linecap="butt"/>
<line x1="1341" y1="2260.4" x2="1365" y2="2260.4" stroke="#555" stroke-width="2" stroke-linecap="butt"/>
<line x1="1426" y1="2109.1" x2="1426" y2="2120" stroke="#555" stroke-width="2" stroke-linecap="butt"/>
<line x1="1417.5" y1="2109.1" x2="1434.5" y2="2109.1" stroke="#555" stroke-width="2" stroke-linecap="butt"/>
<line x1="1498.5" y1="2183.3" x2="1498.5" y2="2193" stroke="#555" stroke-width="2" stroke-linecap="butt"/>
<line x1="1487" y1="2183.3" x2="1510" y2="2183.3" stroke="#555" stroke-width="2" stroke-linecap="butt"/>
<line x1="1571.5" y1="2062.1" x2="1571.5" y2="2092" stroke="#555" stroke-width="2" stroke-linecap="butt"/>
<line x1="1559.7" y1="2062.1" x2="1583.3" y2="2062.1" stroke="#555" stroke-width="2" stroke-linecap="butt"/>
<line x1="1559.7" y1="2092" x2="1583.3" y2="2092" stroke="#555" stroke-width="2" stroke-linecap="butt"/>
<circle cx="1263" cy="2059.1" r="7.7"/>
<circle cx="1286.1" cy="2049.6" r="7.7"/>
<circle cx="1274" cy="2065.1" r="7.7"/>
<circle cx="1296.1" cy="2068.1" r="7.7"/>
<circle cx="1285.1" cy="2074.1" r="7.7"/>
<circle cx="1274" cy="2103.1" r="7.7"/>
<circle cx="1285.1" cy="2109.1" r="7.7"/>
<circle cx="1280.1" cy="2130.2" r="7.7"/>
<circle cx="1353.2" cy="2248.8" r="7.7"/>
<circle cx="1336.2" cy="2275.4" r="7.7"/>
<circle cx="1353.2" cy="2273.4" r="7.7"/>
<circle cx="1370.2" cy="2270.4" r="7.7"/>
<circle cx="1409.3" cy="2106.1" r="7.7"/>
<circle cx="1442.3" cy="2103.7" r="7.7"/>
<circle cx="1409.3" cy="2129.8" r="7.7"/>
<circle cx="1442.3" cy="2127.2" r="7.7"/>
<circle cx="1498.4" cy="2171.2" r="7.7"/>
<circle cx="1481.4" cy="2197.3" r="7.7"/>
<circle cx="1498.4" cy="2195.9" r="7.7"/>
<circle cx="1515.4" cy="2194.3" r="7.7"/>
<circle cx="1571.5" cy="2035" r="7.7"/>
<circle cx="1555.1" cy="2091.1" r="7.7"/>
<circle cx="1571.5" cy="2085.1" r="7.7"/>
<circle cx="1588" cy="2091.1" r="7.7"/>
<line x1="1231.2" y1="1949" x2="1231.2" y2="2342" stroke="#000" stroke-width="4" stroke-linecap="butt"/>
<line x1="1215" y1="2339.8" x2="1231.2" y2="2339.8" stroke="#000" stroke-width="4" stroke-linecap="butt"/>
<text x="1209" y="2350.3" font-size="31" text-anchor="end" fill="#1a1a1a">0</text>
<line x1="1215" y1="2242.5" x2="1231.2" y2="2242.5" stroke="#000" stroke-width="4" stroke-linecap="butt"/>
<text x="1209" y="2253" font-size="31" text-anchor="end" fill="#1a1a1a">100</text>
<line x1="1215" y1="2145.2" x2="1231.2" y2="2145.2" stroke="#000" stroke-width="4" stroke-linecap="butt"/>
<text x="1209" y="2155.7" font-size="31" text-anchor="end" fill="#1a1a1a">200</text>
<line x1="1215" y1="2047.9" x2="1231.2" y2="2047.9" stroke="#000" stroke-width="4" stroke-linecap="butt"/>
<text x="1209" y="2058.4" font-size="31" text-anchor="end" fill="#1a1a1a">300</text>
<line x1="1215" y1="1950.6" x2="1231.2" y2="1950.6" stroke="#000" stroke-width="4" stroke-linecap="butt"/>
<text x="1209" y="1961.1" font-size="31" text-anchor="end" fill="#1a1a1a">400</text>
<line x1="1229" y1="2339.8" x2="1621.7" y2="2339.8" stroke="#000" stroke-width="4" stroke-linecap="butt"/>
<line x1="1280" y1="2339.8" x2="1280" y2="2355.9" stroke="#000" stroke-width="4" stroke-linecap="butt"/>
<line x1="1353" y1="2339.8" x2="1353" y2="2355.9" stroke="#000" stroke-width="4" stroke-linecap="butt"/>
<line x1="1426" y1="2339.8" x2="1426" y2="2355.9" stroke="#000" stroke-width="4" stroke-linecap="butt"/>
<line x1="1498.5" y1="2339.8" x2="1498.5" y2="2355.9" stroke="#000" stroke-width="4" stroke-linecap="butt"/>
<line x1="1571.5" y1="2339.8" x2="1571.5" y2="2355.9" stroke="#000" stroke-width="4" stroke-linecap="butt"/>
<text x="1292" y="2385.5" font-size="32.9" text-anchor="end" fill="#1a1a1a" transform="rotate(-45 1292 2385.5)">Control</text>
<text x="1365" y="2385.5" font-size="32.9" text-anchor="end" fill="#1a1a1a" transform="rotate(-45 1365 2385.5)">NE</text>
<text x="1438" y="2385.5" font-size="32.9" text-anchor="end" fill="#1a1a1a" transform="rotate(-45 1438 2385.5)">NE+A1AT</text>
<text x="1510.5" y="2385.5" font-size="32.9" text-anchor="end" fill="#1a1a1a" transform="rotate(-45 1510.5 2385.5)">NE</text>
<text x="1583.5" y="2385.5" font-size="32.9" text-anchor="end" fill="#1a1a1a" transform="rotate(-45 1583.5 2385.5)">NE+A1AT</text>
<line x1="1335" y1="2516.8" x2="1465.5" y2="2516.8" stroke="#000" stroke-width="2.6" stroke-linecap="butt"/>
<line x1="1485.3" y1="2516.8" x2="1607.9" y2="2516.8" stroke="#000" stroke-width="2.6" stroke-linecap="butt"/>
<text x="1393.3" y="2558.6" font-size="32.5" text-anchor="middle">4h</text>
<text x="1540.5" y="2558.6" font-size="32.5" text-anchor="middle">20h</text>
<polyline points="1279.6,2025.5 1279.6,2007.1 1352.9,2007.1 1352.9,2145.2" fill="none" stroke="#000" stroke-width="3.1" stroke-linejoin="miter"/>
<text x="1296.1" y="2011.1" font-size="48.4" letter-spacing="7.5" stroke="#000" stroke-width="1.6">**</text>
<polyline points="1284.1,1971.6 1284.1,1956.4 1427.7,1956.4 1427.7,2045" fill="none" stroke="#000" stroke-width="3.1" stroke-linejoin="miter"/>
<text x="1363.6" y="1946.7" font-size="37.5" text-anchor="middle">ns</text>
<polyline points="1282.8,1916.6 1282.8,1898.5 1489.8,1898.5 1489.8,2113.2" fill="none" stroke="#000" stroke-width="3.1" stroke-linejoin="miter"/>
<text x="1375" y="1904.7" font-size="52.1" letter-spacing="4.8" stroke="#000" stroke-width="1.6">**</text>
<polyline points="1282.8,1864 1282.8,1846 1572.6,1846 1572.6,1950.6" fill="none" stroke="#000" stroke-width="3.1" stroke-linejoin="miter"/>
<text x="1435.3" y="1827.4" font-size="37.5" text-anchor="middle">ns</text>
<text x="1133.5" y="2126.6" font-size="38" text-anchor="middle" transform="rotate(-90 1133.5 2126.6)">Extracellular C3a (pg/ml)</text>
<text x="1705" y="1849" font-size="77">I</text>
<rect x="1878.3" y="2131.9" width="42.9" height="212.9" fill="#868686" stroke="#000" stroke-width="4.4"/>
<rect x="2023.2" y="2258.5" width="42.9" height="86.3" fill="#bdbdbd" stroke="#000" stroke-width="4.4"/>
<rect x="2169" y="2105.1" width="42.9" height="239.7" fill="#b3b3b3" stroke="#000" stroke-width="4.4"/>
<line x1="1899.8" y1="2105.4" x2="1899.8" y2="2152.8" stroke="#555" stroke-width="2" stroke-linecap="butt"/>
<line x1="1888.3" y1="2105.4" x2="1911.3" y2="2105.4" stroke="#555" stroke-width="2" stroke-linecap="butt"/>
<line x1="1888.3" y1="2152.8" x2="1911.3" y2="2152.8" stroke="#555" stroke-width="2" stroke-linecap="butt"/>
<line x1="2044.7" y1="2244" x2="2044.7" y2="2265.2" stroke="#555" stroke-width="2" stroke-linecap="butt"/>
<line x1="2033.4" y1="2244" x2="2056" y2="2244" stroke="#555" stroke-width="2" stroke-linecap="butt"/>
<line x1="2033.4" y1="2265.2" x2="2056" y2="2265.2" stroke="#555" stroke-width="2" stroke-linecap="butt"/>
<line x1="2190.5" y1="2071.6" x2="2190.5" y2="2132.8" stroke="#555" stroke-width="2" stroke-linecap="butt"/>
<line x1="2178.8" y1="2071.6" x2="2202.2" y2="2071.6" stroke="#555" stroke-width="2" stroke-linecap="butt"/>
<line x1="2178.8" y1="2132.8" x2="2202.2" y2="2132.8" stroke="#555" stroke-width="2" stroke-linecap="butt"/>
<circle cx="1900.1" cy="2072.1" r="7.7"/>
<circle cx="1900.1" cy="2106" r="7.7"/>
<circle cx="1883.1" cy="2171.9" r="7.7"/>
<circle cx="1916" cy="2164.7" r="7.7"/>
<circle cx="2028.8" cy="2231" r="7.7"/>
<circle cx="2061.8" cy="2224.4" r="7.7"/>
<circle cx="2028.8" cy="2255.3" r="7.7"/>
<circle cx="2061.8" cy="2248.1" r="7.7"/>
<circle cx="2028.8" cy="2289.9" r="7.7"/>
<circle cx="2061.8" cy="2279" r="7.7"/>
<circle cx="2190.4" cy="2016.9" r="7.7"/>
<circle cx="2190.4" cy="2037.5" r="7.7"/>
<circle cx="2190.4" cy="2055.2" r="7.7"/>
<circle cx="2190.4" cy="2134.2" r="7.7"/>
<circle cx="2174" cy="2189.4" r="7.7"/>
<circle cx="2206.9" cy="2175.4" r="7.7"/>
<circle cx="1955.9" cy="2344.8" r="7.4"/>
<circle cx="1962.4" cy="2344.8" r="7.4"/>
<circle cx="1968.9" cy="2344.8" r="7.4"/>
<circle cx="1975.5" cy="2344.8" r="7.4"/>
<circle cx="1982" cy="2344.8" r="7.4"/>
<circle cx="1988.5" cy="2344.8" r="7.4"/>
<circle cx="2101.1" cy="2344.8" r="7.4"/>
<circle cx="2107.8" cy="2344.8" r="7.4"/>
<circle cx="2114.5" cy="2344.8" r="7.4"/>
<circle cx="2121.3" cy="2344.8" r="7.4"/>
<circle cx="2128" cy="2344.8" r="7.4"/>
<circle cx="2134.7" cy="2344.8" r="7.4"/>
<line x1="1851.1" y1="1954" x2="1851.1" y2="2347" stroke="#000" stroke-width="4" stroke-linecap="butt"/>
<line x1="1835.6" y1="2344.8" x2="1851.1" y2="2344.8" stroke="#000" stroke-width="4" stroke-linecap="butt"/>
<text x="1830.5" y="2355.3" font-size="31" text-anchor="end" fill="#1a1a1a">0</text>
<line x1="1835.6" y1="2247.2" x2="1851.1" y2="2247.2" stroke="#000" stroke-width="4" stroke-linecap="butt"/>
<text x="1830.5" y="2257.8" font-size="31" text-anchor="end" fill="#1a1a1a">20</text>
<line x1="1835.6" y1="2149.7" x2="1851.1" y2="2149.7" stroke="#000" stroke-width="4" stroke-linecap="butt"/>
<text x="1830.5" y="2160.2" font-size="31" text-anchor="end" fill="#1a1a1a">40</text>
<line x1="1835.6" y1="2052.2" x2="1851.1" y2="2052.2" stroke="#000" stroke-width="4" stroke-linecap="butt"/>
<text x="1830.5" y="2062.7" font-size="31" text-anchor="end" fill="#1a1a1a">60</text>
<line x1="1835.6" y1="1954.6" x2="1851.1" y2="1954.6" stroke="#000" stroke-width="4" stroke-linecap="butt"/>
<text x="1830.5" y="1965.1" font-size="31" text-anchor="end" fill="#1a1a1a">80</text>
<line x1="1849" y1="2344.8" x2="2240.7" y2="2344.8" stroke="#000" stroke-width="4" stroke-linecap="butt"/>
<line x1="1899.8" y1="2344.8" x2="1899.8" y2="2361.2" stroke="#000" stroke-width="4" stroke-linecap="butt"/>
<line x1="1972.2" y1="2344.8" x2="1972.2" y2="2361.2" stroke="#000" stroke-width="4" stroke-linecap="butt"/>
<line x1="2044.7" y1="2344.8" x2="2044.7" y2="2361.2" stroke="#000" stroke-width="4" stroke-linecap="butt"/>
<line x1="2117.4" y1="2344.8" x2="2117.4" y2="2361.2" stroke="#000" stroke-width="4" stroke-linecap="butt"/>
<line x1="2190.5" y1="2344.8" x2="2190.5" y2="2361.2" stroke="#000" stroke-width="4" stroke-linecap="butt"/>
<text x="1911.3" y="2390.5" font-size="32.8" text-anchor="end" fill="#1a1a1a" transform="rotate(-45 1911.3 2390.5)">Control</text>
<text x="1983.7" y="2390.5" font-size="32.8" text-anchor="end" fill="#1a1a1a" transform="rotate(-45 1983.7 2390.5)">NE</text>
<text x="2056.2" y="2390.5" font-size="32.8" text-anchor="end" fill="#1a1a1a" transform="rotate(-45 2056.2 2390.5)">NE+A1AT</text>
<text x="2128.9" y="2390.5" font-size="32.8" text-anchor="end" fill="#1a1a1a" transform="rotate(-45 2128.9 2390.5)">NE</text>
<text x="2202" y="2390.5" font-size="32.8" text-anchor="end" fill="#1a1a1a" transform="rotate(-45 2202 2390.5)">NE+A1AT</text>
<line x1="1954" y1="2519.8" x2="2086.3" y2="2519.8" stroke="#000" stroke-width="2.6" stroke-linecap="butt"/>
<line x1="2104.3" y1="2519.8" x2="2225.7" y2="2519.8" stroke="#000" stroke-width="2.6" stroke-linecap="butt"/>
<text x="2012.3" y="2559.6" font-size="32.5" text-anchor="middle">4h</text>
<text x="2160.5" y="2559.6" font-size="32.5" text-anchor="middle">20h</text>
<polyline points="1889.9,2023.2 1889.9,2000.6 1972.2,2000.6 1972.2,2290.3" fill="none" stroke="#000" stroke-width="3.1" stroke-linejoin="miter"/>
<text x="1921.1" y="1991.1" font-size="48.7" letter-spacing="7.4" stroke="#000" stroke-width="1.6">**</text>
<polyline points="1889.9,1975.7 1889.9,1930.5 2039.5,1930.5 2039.5,2197.7" fill="none" stroke="#000" stroke-width="3.1" stroke-linejoin="miter"/>
<text x="1989" y="1938.3" font-size="50.4" letter-spacing="6.5" stroke="#000" stroke-width="1.6">**</text>
<polyline points="1889.9,1890.8 1889.9,1860.1 2117.4,1860.1 2117.4,2275.9" fill="none" stroke="#000" stroke-width="3.1" stroke-linejoin="miter"/>
<text x="2049.1" y="1872.2" font-size="51.3" letter-spacing="5.8" stroke="#000" stroke-width="1.6">**</text>
<polyline points="1889.9,1836.5 1889.9,1791.8 2190.2,1791.8 2190.2,1970.5" fill="none" stroke="#000" stroke-width="3.1" stroke-linejoin="miter"/>
<text x="2075.7" y="1774.7" font-size="37" text-anchor="middle">ns</text>
<text x="1748" y="2118.4" font-size="38" text-anchor="middle" transform="rotate(-90 1748 2118.4)">Extracellular C5a (pg/ml)</text>
</svg>
</body></html>
